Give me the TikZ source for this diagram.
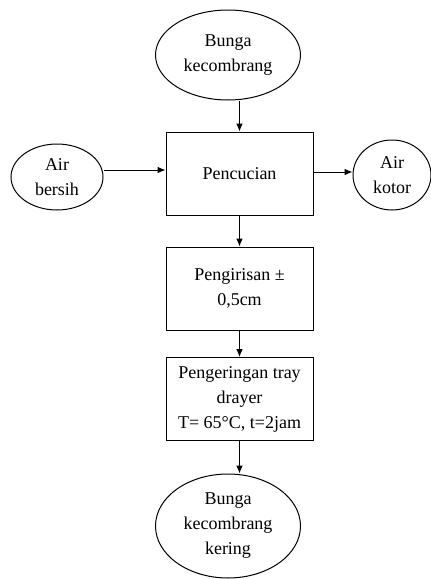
\documentclass[tikz,border=0pt]{standalone}
\usepackage{fontspec}
\setmainfont{Liberation Serif}
\usetikzlibrary{arrows.meta,shapes.geometric}

\begin{document}
\begin{tikzpicture}[
  x=0.75pt, y=-0.75pt,
  font=\fontsize{13.5}{18.75}\selectfont, >={Latex[length=6pt,width=5pt]},
  line width=0.75pt,
  proses/.style={draw, rectangle, align=center, minimum width=110.25pt, minimum height=62.25pt, inner sep=2pt},
  bahan/.style={draw, ellipse, align=center, inner sep=0pt},
]
\useasboundingbox (0,0) rectangle (431,579);
% --- main line ---
\node[bahan, minimum width=108.75pt, minimum height=67.5pt] (bunga) at (228,55) {Bunga\\kecombrang};
\node[proses] (cuci) at (239.5,173.5) {Pencucian};
\node[proses] (iris) at (239.5,288.5) {Pengirisan ±\\0,5cm};
\node[proses] (keringkan) at (239.5,399) {Pengeringan tray\\drayer\\T= 65°C, t=2jam};
\node[bahan, minimum width=108.75pt, minimum height=78pt] (hasil) at (228,526) {Bunga\\kecombrang\\kering};
% --- side streams ---
\node[bahan, minimum width=69pt, minimum height=49.5pt] (bersih) at (57,177) {Air\\bersih};
\node[bahan, minimum width=58.5pt, minimum height=52.5pt] (kotor) at (392,175) {Air\\kotor};
% arrows
\draw[->] (bunga.south -| cuci.north) -- (cuci.north);
\draw[->] (cuci.south) -- (iris.north);
\draw[->] (iris.south) -- (keringkan.north);
\draw[->] (keringkan.south) -- (hasil.north -| keringkan.south);
\draw[->] (bersih.east |- 0,170) -- (cuci.west |- 0,170);
\draw[->] (cuci.east |- 0,172) -- (kotor.west |- 0,172);
\end{tikzpicture}
\end{document}
